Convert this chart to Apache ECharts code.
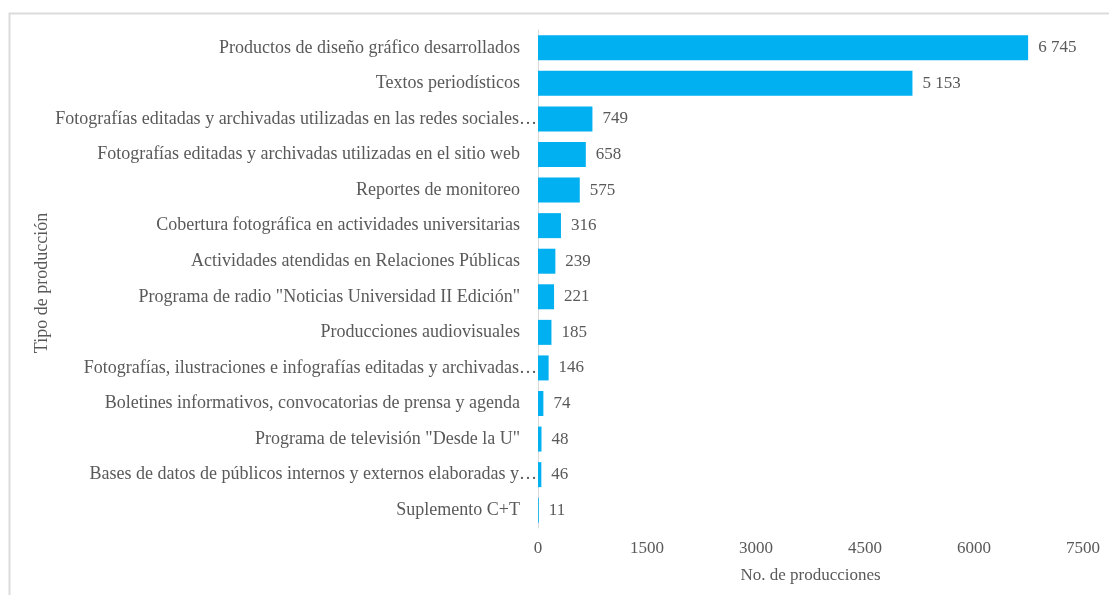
<!DOCTYPE html>
<html>
<head>
<meta charset="utf-8">
<script src="https://cdn.jsdelivr.net/npm/echarts@6/dist/echarts.min.js"></script>
<style>
  html, body { margin: 0; padding: 0; background: #fff; }
  #chart { width: 1109px; height: 595px; }
</style>
</head>
<body>
<div id="chart"></div>
<script>
// categories, top to bottom as in the picture
var categories = [
    'Productos de diseño gráfico desarrollados',
    'Textos periodísticos',
    'Fotografías editadas y archivadas utilizadas en las redes sociales…',
    'Fotografías editadas y archivadas utilizadas en el sitio web',
    'Reportes de monitoreo',
    'Cobertura fotográfica en actividades universitarias',
    'Actividades atendidas en Relaciones Públicas',
    'Programa de radio "Noticias Universidad II Edición"',
    'Producciones audiovisuales',
    'Fotografías, ilustraciones e infografías editadas y archivadas…',
    'Boletines informativos, convocatorias de prensa y agenda',
    'Programa de televisión "Desde la U"',
    'Bases de datos de públicos internos y externos elaboradas y…',
    'Suplemento C+T'
];
var values = [6745, 5153, 749, 658, 575, 316, 239, 221, 185, 146, 74, 48, 46, 11];
var xTicks = { min: 0, max: 7500, interval: 1500 };

var font = '"Liberation Serif", "Times New Roman", serif';
var grey = '#595959';

function fmt(n) {
    return String(n).replace(/\B(?=(\d{3})+(?!\d))/g, ' ');
}

var chart = echarts.init(document.getElementById('chart'));
var option = {
    animation: false,
    textStyle: { fontFamily: font },
    graphic: [{
        type: 'polyline',
        silent: true,
        shape: { points: [[9.5, 600], [9.5, 13.5], [1120, 13.5]] },
        style: { stroke: '#dcdcdc', lineWidth: 2, fill: null }
    }],
    grid: {
        left: 538,
        right: 26,
        top: 30,
        bottom: 67
    },
    xAxis: {
        type: 'value',
        min: xTicks.min,
        max: xTicks.max,
        interval: xTicks.interval,
        name: 'No. de producciones',
        nameLocation: 'middle',
        nameGap: 39,
        nameTextStyle: { color: grey, fontSize: 17, fontFamily: font },
        axisLine: { show: false },
        axisTick: { show: false },
        splitLine: { show: false },
        axisLabel: {
            color: grey, fontSize: 17, fontFamily: font, margin: 12,
            formatter: function (v) { return String(v); }
        }
    },
    yAxis: {
        type: 'category',
        data: categories,
        inverse: true,
        name: 'Tipo de producción',
        nameLocation: 'middle',
        nameRotate: 90,
        nameGap: 486,
        nameTextStyle: { color: grey, fontSize: 18, fontFamily: font, padding: [0, 8, 0, 0] },
        axisLine: { show: true, lineStyle: { color: '#d9d9d9', width: 1 } },
        axisTick: { show: false },
        axisLabel: {
            color: grey, fontSize: 18, fontFamily: font, margin: 1,
            formatter: function (v) {
                return v.slice(-1) === '…' ? '{e|' + v + '}' : '{n|' + v + '}';
            },
            rich: {
                n: { color: grey, fontSize: 18, fontFamily: font, padding: [0, 17, 0, 0] },
                e: { color: grey, fontSize: 18, fontFamily: font, padding: [0, 0, 0, 0] }
            }
        }
    },
    series: [{
        type: 'bar',
        data: values,
        barWidth: 25,
        itemStyle: { color: '#00b0f0' },
        label: {
            show: true,
            position: 'right',
            distance: 10,
            color: grey,
            fontSize: 17,
            fontFamily: font,
            formatter: function (p) { return fmt(p.value); }
        }
    }]
};
chart.setOption(option);
</script>
</body>
</html>
